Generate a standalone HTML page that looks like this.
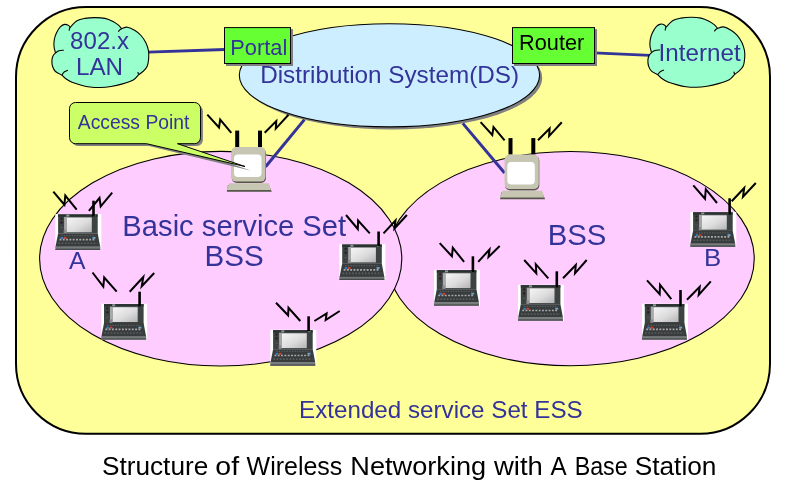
<!DOCTYPE html>
<html><head><meta charset="utf-8"><style>
html,body{margin:0;padding:0;background:#fff;}
svg{display:block;}
text{font-family:"Liberation Sans",sans-serif;}
.bolt{fill:none;stroke:#000;stroke-width:2;stroke-linejoin:miter;}
</style></head><body>
<svg width="801" height="480" viewBox="0 0 801 480" style="will-change:transform">
<defs>
<linearGradient id="scr" x1="0" y1="0" x2="1" y2="1">
<stop offset="0" stop-color="#f6f6f6"/><stop offset="0.55" stop-color="#dcdcdc"/><stop offset="1" stop-color="#b4b4b4"/>
</linearGradient>


</defs>
<rect x="16" y="7" width="754" height="426.8" rx="70" fill="#ffff99" stroke="#000" stroke-width="2"/>
<path d="M148 52.1 L225 49.5" stroke="#333399" stroke-width="2.8" fill="none"/>
<path d="M594 52.8 L650 55.4" stroke="#333399" stroke-width="2.8" fill="none"/>
<path d="M55.5 52.9 C55.25 51.83 54.21 48.65 54 46.5 C53.79 44.35 53.87 42.2 54.25 40 C54.63 37.8 55.26 35.52 56.3 33.3 C57.34 31.08 59.1 28.18 60.5 26.7 C61.9 25.22 63.32 24.58 64.7 24.4 C66.08 24.22 67.92 25.08 68.8 25.6 C69.68 26.12 69.8 27.18 70 27.5 C71.17 26.38 74.5 22.32 77 20.8 C79.5 19.28 82 18.93 85 18.4 C88 17.87 91.67 17.6 95 17.6 C98.33 17.6 102 17.75 105 18.4 C108 19.05 110.75 20.37 113 21.5 C115.25 22.63 117.05 23.99 118.5 25.2 C119.95 26.41 121.17 28.16 121.7 28.75 C122.67 28.49 125.28 26.91 127.5 27.2 C129.72 27.49 132.75 29.12 135 30.5 C137.25 31.88 139.17 33.42 141 35.5 C142.83 37.58 144.75 40.42 146 43 C147.25 45.58 148.05 48.45 148.5 51 C148.95 53.55 148.9 55.8 148.7 58.3 C148.5 60.8 148.17 63.88 147.3 66 C146.43 68.12 144.93 69.57 143.5 71 C142.07 72.43 139.54 74 138.75 74.6 C137.84 75.5 136.01 78.45 133.3 80 C130.59 81.55 126.22 82.82 122.5 83.9 C118.78 84.98 114.75 85.9 111 86.5 C107.25 87.1 103.5 87.42 100 87.5 C96.5 87.58 93.12 87.38 90 87 C86.88 86.62 84.3 85.98 81.3 85.2 C78.3 84.42 74.63 83.42 72 82.3 C69.37 81.18 67.21 79.72 65.5 78.5 C63.79 77.28 62.38 75.58 61.75 75 C60.71 74.42 57.02 72.92 55.5 71.5 C53.98 70.08 53.2 68.33 52.6 66.5 C52 64.67 51.83 62.25 51.9 60.5 C51.97 58.75 52.4 57.27 53 56 C53.6 54.73 55.08 53.42 55.5 52.9 Z" fill="#99ffcc" stroke="#000" stroke-width="1.1"/>
<path d="M55.5 52.9 C56.08 52.55 57.62 51.25 59 50.8 C60.38 50.35 63 50.3 63.8 50.2 M70 27.5 C69.9 27.78 69.53 28.65 69.4 29.2 C69.27 29.75 69.23 30.53 69.2 30.8 M121.7 28.75 C121.38 28.93 120.37 29.31 119.8 29.8 C119.23 30.29 118.55 31.38 118.3 31.7 M138.75 74.6 C138.66 74.38 138.34 73.73 138.2 73.3 C138.06 72.87 137.95 72.22 137.9 72 M61.75 75 C62.21 74.47 63.46 72.6 64.5 71.8 C65.54 71 67.42 70.47 68 70.2" fill="none" stroke="#000" stroke-width="1.1"/>
<path d="M651.5 52.6 C651.25 51.53 650.21 48.35 650 46.2 C649.79 44.05 649.87 41.9 650.25 39.7 C650.63 37.5 651.26 35.22 652.3 33 C653.34 30.78 655.1 27.88 656.5 26.4 C657.9 24.92 659.32 24.28 660.7 24.1 C662.08 23.92 663.92 24.78 664.8 25.3 C665.68 25.82 665.8 26.88 666 27.2 C667.17 26.08 670.5 22.02 673 20.5 C675.5 18.98 678 18.63 681 18.1 C684 17.57 687.67 17.3 691 17.3 C694.33 17.3 698 17.45 701 18.1 C704 18.75 706.75 20.07 709 21.2 C711.25 22.33 713.05 23.69 714.5 24.9 C715.95 26.11 717.17 27.86 717.7 28.45 C718.67 28.19 721.28 26.61 723.5 26.9 C725.72 27.19 728.75 28.82 731 30.2 C733.25 31.58 735.17 33.12 737 35.2 C738.83 37.28 740.75 40.12 742 42.7 C743.25 45.28 744.05 48.15 744.5 50.7 C744.95 53.25 744.9 55.5 744.7 58 C744.5 60.5 744.17 63.58 743.3 65.7 C742.43 67.82 740.92 69.27 739.5 70.7 C738.08 72.13 735.54 73.7 734.75 74.3 C733.84 75.2 732.01 78.15 729.3 79.7 C726.59 81.25 722.22 82.52 718.5 83.6 C714.78 84.68 710.75 85.6 707 86.2 C703.25 86.8 699.5 87.12 696 87.2 C692.5 87.28 689.12 87.08 686 86.7 C682.88 86.32 680.3 85.68 677.3 84.9 C674.3 84.12 670.63 83.12 668 82 C665.37 80.88 663.21 79.42 661.5 78.2 C659.79 76.98 658.38 75.28 657.75 74.7 C656.71 74.12 653.02 72.62 651.5 71.2 C649.98 69.78 649.2 68.03 648.6 66.2 C648 64.37 647.83 61.95 647.9 60.2 C647.97 58.45 648.4 56.97 649 55.7 C649.6 54.43 651.08 53.12 651.5 52.6 Z" fill="#99ffcc" stroke="#000" stroke-width="1.1"/>
<path d="M651.5 52.6 C652.08 52.25 653.62 50.95 655 50.5 C656.38 50.05 659 50 659.8 49.9 M666 27.2 C665.9 27.48 665.53 28.35 665.4 28.9 C665.27 29.45 665.23 30.23 665.2 30.5 M717.7 28.45 C717.38 28.62 716.37 29.01 715.8 29.5 C715.23 29.99 714.55 31.08 714.3 31.4 M734.75 74.3 C734.66 74.08 734.34 73.43 734.2 73 C734.06 72.57 733.95 71.92 733.9 71.7 M657.75 74.7 C658.21 74.17 659.46 72.3 660.5 71.5 C661.54 70.7 663.42 70.17 664 69.9" fill="none" stroke="#000" stroke-width="1.1"/>
<ellipse cx="392.05" cy="77.9" rx="150.15" ry="51.6" fill="#808080"/>
<ellipse cx="389.45" cy="75.3" rx="150.15" ry="51.6" fill="#cceeff" stroke="#000" stroke-width="1.1"/>
<rect x="226" y="29.1" width="67" height="36.9" fill="#808080"/>
<rect x="224.5" y="27.6" width="66" height="35.9" fill="#66ff33" stroke="#000" stroke-width="1"/>
<rect x="514" y="29.1" width="83" height="36.9" fill="#808080"/>
<rect x="512.5" y="27.6" width="82" height="35.9" fill="#66ff33" stroke="#000" stroke-width="1"/>
<ellipse cx="570.5" cy="258.6" rx="183.75" ry="107.1" fill="#ffccff" stroke="#000" stroke-width="1.1"/>
<ellipse cx="220.7" cy="258.7" rx="181.1" ry="107.3" fill="#ffccff" stroke="#000" stroke-width="1.1"/>
<path d="M265.6 166.7 L304.4 119.6" stroke="#333399" stroke-width="3" fill="none"/>
<path d="M462.8 123.4 L504.6 173" stroke="#333399" stroke-width="3" fill="none"/>
<g transform="translate(0 0)">
<rect x="235.2" y="130.6" width="4" height="16.5" fill="#000"/>
<rect x="258" y="130.6" width="4" height="16.5" fill="#000"/>
<path class="bolt" d="M207.3 114.6 L219 127.5 L220.2 119.5 L231.3 132.8"/>
<path class="bolt" d="M264.7 132.8 L276.3 121 L275.8 128.6 L288.5 114.8"/>
<rect x="231.8" y="148.3" width="34.2" height="34.6" rx="5" fill="#55554a"/>
<rect x="231.3" y="147" width="34.2" height="34.6" rx="5" fill="#c6c6b2"/>
<rect x="234" y="154.5" width="27.5" height="22.4" rx="4" fill="#fff"/>
<path d="M228 185 L268.8 185 L271.8 191.7 L226.8 191.7 Z" fill="#55554a"/>
<path d="M229.2 183.3 L268.8 183.3 L270.8 190 L226.5 190 Z" fill="#c6c6b2"/>
</g>
<g transform="translate(273.3 7.5)">
<rect x="235.2" y="130.6" width="4" height="16.5" fill="#000"/>
<rect x="258" y="130.6" width="4" height="16.5" fill="#000"/>
<path class="bolt" d="M207.3 114.6 L219 127.5 L220.2 119.5 L231.3 132.8"/>
<path class="bolt" d="M264.7 132.8 L276.3 121 L275.8 128.6 L288.5 114.8"/>
<rect x="231.8" y="148.3" width="34.2" height="34.6" rx="5" fill="#55554a"/>
<rect x="231.3" y="147" width="34.2" height="34.6" rx="5" fill="#c6c6b2"/>
<rect x="234" y="154.5" width="27.5" height="22.4" rx="4" fill="#fff"/>
<path d="M228 185 L268.8 185 L271.8 191.7 L226.8 191.7 Z" fill="#55554a"/>
<path d="M229.2 183.3 L268.8 183.3 L270.8 190 L226.5 190 Z" fill="#c6c6b2"/>
</g>
<path d="M75.5 102.5 H194.5 A6 6 0 0 1 200.5 108.5 V137.7 A6 6 0 0 1 194.5 143.7 H177.5 L248.8 168.3 L146.5 143.7 H75.5 A6 6 0 0 1 69.5 137.7 V108.5 A6 6 0 0 1 75.5 102.5 Z" fill="#808080" transform="translate(2.4 2.4)"/>
<path d="M75.5 102.5 H194.5 A6 6 0 0 1 200.5 108.5 V137.7 A6 6 0 0 1 194.5 143.7 H177.5 L245 166.5 L146.5 143.7 H75.5 A6 6 0 0 1 69.5 137.7 V108.5 A6 6 0 0 1 75.5 102.5 Z" fill="#ccff66" stroke="#000" stroke-width="1"/>
<g transform="translate(55.3 214)">
<rect x="0" y="0" width="46" height="36" fill="#fff"/>
<rect x="2.8" y="0.4" width="39.6" height="19.2" fill="#3d4242"/>
<rect x="2.8" y="0.4" width="39.6" height="2.4" fill="#2b3131"/>
<rect x="11" y="0.6" width="3" height="2" fill="#8e9a9a"/>
<rect x="37.6" y="0.8" width="2.4" height="1.6" fill="#8e9a9a"/>
<rect x="11.5" y="2.9" width="25" height="0.7" fill="#666"/>
<rect x="8.8" y="2.9" width="2.7" height="15.8" fill="#a9a9a9"/>
<rect x="11.5" y="3.5" width="25" height="14.8" fill="url(#scr)"/>
<rect x="5.2" y="3.8" width="2" height="1.8" fill="#2a1a1a"/>
<rect x="5.2" y="7.6" width="2" height="2" fill="#2a1a1a"/>
<rect x="5" y="13" width="3" height="1" fill="#555"/>
<rect x="8.4" y="15.6" width="2.4" height="3.6" fill="#8a8a8a"/>
<path d="M2.8 19.4 H42.4 L44.9 32.8 L0.2 32.8 Z" fill="#383c3c"/>
<path d="M6 21.6 H40" stroke="#5a6060" stroke-width="1.2" stroke-dasharray="1.2 1.4"/>
<rect x="5.4" y="23" width="2.4" height="2" fill="#2f7fc8"/>
<rect x="8.4" y="23" width="2.8" height="2" fill="#c8402e"/>
<rect x="37.2" y="23" width="3" height="1.8" fill="#6aa6d2"/>
<path d="M4.2 25.7 H40.5" stroke="#a9a9a9" stroke-width="1.7" stroke-dasharray="1.9 1.4"/>
<path d="M3.2 29.3 H42" stroke="#5a5e5e" stroke-width="1.6" stroke-dasharray="1.6 1.6"/>
<path d="M0.2 32.6 H44.9 L45 35.8 H0 Z" fill="#5e6262"/>
<rect x="0.2" y="33.2" width="44.7" height="0.9" fill="#7c8080"/>
<rect x="0" y="35" width="45" height="0.9" fill="#444848"/>
</g>
<rect x="92.2" y="200.7" width="2.6" height="15.9" fill="#000"/>
<path d="M53.3 191.6 L64.4 204.7 L65.3 195.5 L76.7 209.7 M88.9 210.8 L99.5 198 L100.7 206.4 L112.2 192.7" class="bolt"/>
<g transform="translate(101.2 303.7)">
<rect x="0" y="0" width="46" height="36" fill="#fff"/>
<rect x="2.8" y="0.4" width="39.6" height="19.2" fill="#3d4242"/>
<rect x="2.8" y="0.4" width="39.6" height="2.4" fill="#2b3131"/>
<rect x="11" y="0.6" width="3" height="2" fill="#8e9a9a"/>
<rect x="37.6" y="0.8" width="2.4" height="1.6" fill="#8e9a9a"/>
<rect x="11.5" y="2.9" width="25" height="0.7" fill="#666"/>
<rect x="8.8" y="2.9" width="2.7" height="15.8" fill="#a9a9a9"/>
<rect x="11.5" y="3.5" width="25" height="14.8" fill="url(#scr)"/>
<rect x="5.2" y="3.8" width="2" height="1.8" fill="#2a1a1a"/>
<rect x="5.2" y="7.6" width="2" height="2" fill="#2a1a1a"/>
<rect x="5" y="13" width="3" height="1" fill="#555"/>
<rect x="8.4" y="15.6" width="2.4" height="3.6" fill="#8a8a8a"/>
<path d="M2.8 19.4 H42.4 L44.9 32.8 L0.2 32.8 Z" fill="#383c3c"/>
<path d="M6 21.6 H40" stroke="#5a6060" stroke-width="1.2" stroke-dasharray="1.2 1.4"/>
<rect x="5.4" y="23" width="2.4" height="2" fill="#2f7fc8"/>
<rect x="8.4" y="23" width="2.8" height="2" fill="#c8402e"/>
<rect x="37.2" y="23" width="3" height="1.8" fill="#6aa6d2"/>
<path d="M4.2 25.7 H40.5" stroke="#a9a9a9" stroke-width="1.7" stroke-dasharray="1.9 1.4"/>
<path d="M3.2 29.3 H42" stroke="#5a5e5e" stroke-width="1.6" stroke-dasharray="1.6 1.6"/>
<path d="M0.2 32.6 H44.9 L45 35.8 H0 Z" fill="#5e6262"/>
<rect x="0.2" y="33.2" width="44.7" height="0.9" fill="#7c8080"/>
<rect x="0" y="35" width="45" height="0.9" fill="#444848"/>
</g>
<rect x="138.3" y="291.7" width="2.6" height="14.6" fill="#000"/>
<path d="M92.5 272.5 L103.3 286.7 L104.2 277.5 L116.7 291.7 M129.7 291.7 L143.3 277 L141.7 286.3 L154.2 273" class="bolt"/>
<g transform="translate(270.3 329.8)">
<rect x="0" y="0" width="46" height="36" fill="#fff"/>
<rect x="2.8" y="0.4" width="39.6" height="19.2" fill="#3d4242"/>
<rect x="2.8" y="0.4" width="39.6" height="2.4" fill="#2b3131"/>
<rect x="11" y="0.6" width="3" height="2" fill="#8e9a9a"/>
<rect x="37.6" y="0.8" width="2.4" height="1.6" fill="#8e9a9a"/>
<rect x="11.5" y="2.9" width="25" height="0.7" fill="#666"/>
<rect x="8.8" y="2.9" width="2.7" height="15.8" fill="#a9a9a9"/>
<rect x="11.5" y="3.5" width="25" height="14.8" fill="url(#scr)"/>
<rect x="5.2" y="3.8" width="2" height="1.8" fill="#2a1a1a"/>
<rect x="5.2" y="7.6" width="2" height="2" fill="#2a1a1a"/>
<rect x="5" y="13" width="3" height="1" fill="#555"/>
<rect x="8.4" y="15.6" width="2.4" height="3.6" fill="#8a8a8a"/>
<path d="M2.8 19.4 H42.4 L44.9 32.8 L0.2 32.8 Z" fill="#383c3c"/>
<path d="M6 21.6 H40" stroke="#5a6060" stroke-width="1.2" stroke-dasharray="1.2 1.4"/>
<rect x="5.4" y="23" width="2.4" height="2" fill="#2f7fc8"/>
<rect x="8.4" y="23" width="2.8" height="2" fill="#c8402e"/>
<rect x="37.2" y="23" width="3" height="1.8" fill="#6aa6d2"/>
<path d="M4.2 25.7 H40.5" stroke="#a9a9a9" stroke-width="1.7" stroke-dasharray="1.9 1.4"/>
<path d="M3.2 29.3 H42" stroke="#5a5e5e" stroke-width="1.6" stroke-dasharray="1.6 1.6"/>
<path d="M0.2 32.6 H44.9 L45 35.8 H0 Z" fill="#5e6262"/>
<rect x="0.2" y="33.2" width="44.7" height="0.9" fill="#7c8080"/>
<rect x="0" y="35" width="45" height="0.9" fill="#444848"/>
</g>
<rect x="307.3" y="316.3" width="2.6" height="15" fill="#000"/>
<path d="M276 302.8 L288.1 315.3 L288.5 307.8 L300.3 321 M314.4 321 L326.6 313.5 L325.7 320 L339.7 311" class="bolt"/>
<g transform="translate(339.4 244.1)">
<rect x="0" y="0" width="46" height="36" fill="#fff"/>
<rect x="2.8" y="0.4" width="39.6" height="19.2" fill="#3d4242"/>
<rect x="2.8" y="0.4" width="39.6" height="2.4" fill="#2b3131"/>
<rect x="11" y="0.6" width="3" height="2" fill="#8e9a9a"/>
<rect x="37.6" y="0.8" width="2.4" height="1.6" fill="#8e9a9a"/>
<rect x="11.5" y="2.9" width="25" height="0.7" fill="#666"/>
<rect x="8.8" y="2.9" width="2.7" height="15.8" fill="#a9a9a9"/>
<rect x="11.5" y="3.5" width="25" height="14.8" fill="url(#scr)"/>
<rect x="5.2" y="3.8" width="2" height="1.8" fill="#2a1a1a"/>
<rect x="5.2" y="7.6" width="2" height="2" fill="#2a1a1a"/>
<rect x="5" y="13" width="3" height="1" fill="#555"/>
<rect x="8.4" y="15.6" width="2.4" height="3.6" fill="#8a8a8a"/>
<path d="M2.8 19.4 H42.4 L44.9 32.8 L0.2 32.8 Z" fill="#383c3c"/>
<path d="M6 21.6 H40" stroke="#5a6060" stroke-width="1.2" stroke-dasharray="1.2 1.4"/>
<rect x="5.4" y="23" width="2.4" height="2" fill="#2f7fc8"/>
<rect x="8.4" y="23" width="2.8" height="2" fill="#c8402e"/>
<rect x="37.2" y="23" width="3" height="1.8" fill="#6aa6d2"/>
<path d="M4.2 25.7 H40.5" stroke="#a9a9a9" stroke-width="1.7" stroke-dasharray="1.9 1.4"/>
<path d="M3.2 29.3 H42" stroke="#5a5e5e" stroke-width="1.6" stroke-dasharray="1.6 1.6"/>
<path d="M0.2 32.6 H44.9 L45 35.8 H0 Z" fill="#5e6262"/>
<rect x="0.2" y="33.2" width="44.7" height="0.9" fill="#7c8080"/>
<rect x="0" y="35" width="45" height="0.9" fill="#444848"/>
</g>
<rect x="377.3" y="231.5" width="2.6" height="14.5" fill="#000"/>
<path d="M346 215 L357.8 229 L358.1 220.6 L369.8 233.4 M383.5 233.4 L395.5 220.5 L394.5 228.5 L406.9 215" class="bolt"/>
<g transform="translate(434 269.8)">
<rect x="0" y="0" width="46" height="36" fill="#fff"/>
<rect x="2.8" y="0.4" width="39.6" height="19.2" fill="#3d4242"/>
<rect x="2.8" y="0.4" width="39.6" height="2.4" fill="#2b3131"/>
<rect x="11" y="0.6" width="3" height="2" fill="#8e9a9a"/>
<rect x="37.6" y="0.8" width="2.4" height="1.6" fill="#8e9a9a"/>
<rect x="11.5" y="2.9" width="25" height="0.7" fill="#666"/>
<rect x="8.8" y="2.9" width="2.7" height="15.8" fill="#a9a9a9"/>
<rect x="11.5" y="3.5" width="25" height="14.8" fill="url(#scr)"/>
<rect x="5.2" y="3.8" width="2" height="1.8" fill="#2a1a1a"/>
<rect x="5.2" y="7.6" width="2" height="2" fill="#2a1a1a"/>
<rect x="5" y="13" width="3" height="1" fill="#555"/>
<rect x="8.4" y="15.6" width="2.4" height="3.6" fill="#8a8a8a"/>
<path d="M2.8 19.4 H42.4 L44.9 32.8 L0.2 32.8 Z" fill="#383c3c"/>
<path d="M6 21.6 H40" stroke="#5a6060" stroke-width="1.2" stroke-dasharray="1.2 1.4"/>
<rect x="5.4" y="23" width="2.4" height="2" fill="#2f7fc8"/>
<rect x="8.4" y="23" width="2.8" height="2" fill="#c8402e"/>
<rect x="37.2" y="23" width="3" height="1.8" fill="#6aa6d2"/>
<path d="M4.2 25.7 H40.5" stroke="#a9a9a9" stroke-width="1.7" stroke-dasharray="1.9 1.4"/>
<path d="M3.2 29.3 H42" stroke="#5a5e5e" stroke-width="1.6" stroke-dasharray="1.6 1.6"/>
<path d="M0.2 32.6 H44.9 L45 35.8 H0 Z" fill="#5e6262"/>
<rect x="0.2" y="33.2" width="44.7" height="0.9" fill="#7c8080"/>
<rect x="0" y="35" width="45" height="0.9" fill="#444848"/>
</g>
<rect x="471.6" y="256.3" width="2.6" height="15.9" fill="#000"/>
<path d="M439.7 243.1 L451.9 256.3 L452.8 247.8 L464.1 261.9 M478.2 261.9 L489.5 249.5 L488.5 257 L499.7 246" class="bolt"/>
<g transform="translate(518 284.8)">
<rect x="0" y="0" width="46" height="36" fill="#fff"/>
<rect x="2.8" y="0.4" width="39.6" height="19.2" fill="#3d4242"/>
<rect x="2.8" y="0.4" width="39.6" height="2.4" fill="#2b3131"/>
<rect x="11" y="0.6" width="3" height="2" fill="#8e9a9a"/>
<rect x="37.6" y="0.8" width="2.4" height="1.6" fill="#8e9a9a"/>
<rect x="11.5" y="2.9" width="25" height="0.7" fill="#666"/>
<rect x="8.8" y="2.9" width="2.7" height="15.8" fill="#a9a9a9"/>
<rect x="11.5" y="3.5" width="25" height="14.8" fill="url(#scr)"/>
<rect x="5.2" y="3.8" width="2" height="1.8" fill="#2a1a1a"/>
<rect x="5.2" y="7.6" width="2" height="2" fill="#2a1a1a"/>
<rect x="5" y="13" width="3" height="1" fill="#555"/>
<rect x="8.4" y="15.6" width="2.4" height="3.6" fill="#8a8a8a"/>
<path d="M2.8 19.4 H42.4 L44.9 32.8 L0.2 32.8 Z" fill="#383c3c"/>
<path d="M6 21.6 H40" stroke="#5a6060" stroke-width="1.2" stroke-dasharray="1.2 1.4"/>
<rect x="5.4" y="23" width="2.4" height="2" fill="#2f7fc8"/>
<rect x="8.4" y="23" width="2.8" height="2" fill="#c8402e"/>
<rect x="37.2" y="23" width="3" height="1.8" fill="#6aa6d2"/>
<path d="M4.2 25.7 H40.5" stroke="#a9a9a9" stroke-width="1.7" stroke-dasharray="1.9 1.4"/>
<path d="M3.2 29.3 H42" stroke="#5a5e5e" stroke-width="1.6" stroke-dasharray="1.6 1.6"/>
<path d="M0.2 32.6 H44.9 L45 35.8 H0 Z" fill="#5e6262"/>
<rect x="0.2" y="33.2" width="44.7" height="0.9" fill="#7c8080"/>
<rect x="0" y="35" width="45" height="0.9" fill="#444848"/>
</g>
<rect x="555.5" y="271.3" width="2.6" height="16.2" fill="#000"/>
<path d="M524.2 260 L536.3 273.3 L535.8 264.2 L548.3 278.3 M563 278.3 L575.8 265 L575 273.3 L586.7 260" class="bolt"/>
<g transform="translate(642 303.7)">
<rect x="0" y="0" width="46" height="36" fill="#fff"/>
<rect x="2.8" y="0.4" width="39.6" height="19.2" fill="#3d4242"/>
<rect x="2.8" y="0.4" width="39.6" height="2.4" fill="#2b3131"/>
<rect x="11" y="0.6" width="3" height="2" fill="#8e9a9a"/>
<rect x="37.6" y="0.8" width="2.4" height="1.6" fill="#8e9a9a"/>
<rect x="11.5" y="2.9" width="25" height="0.7" fill="#666"/>
<rect x="8.8" y="2.9" width="2.7" height="15.8" fill="#a9a9a9"/>
<rect x="11.5" y="3.5" width="25" height="14.8" fill="url(#scr)"/>
<rect x="5.2" y="3.8" width="2" height="1.8" fill="#2a1a1a"/>
<rect x="5.2" y="7.6" width="2" height="2" fill="#2a1a1a"/>
<rect x="5" y="13" width="3" height="1" fill="#555"/>
<rect x="8.4" y="15.6" width="2.4" height="3.6" fill="#8a8a8a"/>
<path d="M2.8 19.4 H42.4 L44.9 32.8 L0.2 32.8 Z" fill="#383c3c"/>
<path d="M6 21.6 H40" stroke="#5a6060" stroke-width="1.2" stroke-dasharray="1.2 1.4"/>
<rect x="5.4" y="23" width="2.4" height="2" fill="#2f7fc8"/>
<rect x="8.4" y="23" width="2.8" height="2" fill="#c8402e"/>
<rect x="37.2" y="23" width="3" height="1.8" fill="#6aa6d2"/>
<path d="M4.2 25.7 H40.5" stroke="#a9a9a9" stroke-width="1.7" stroke-dasharray="1.9 1.4"/>
<path d="M3.2 29.3 H42" stroke="#5a5e5e" stroke-width="1.6" stroke-dasharray="1.6 1.6"/>
<path d="M0.2 32.6 H44.9 L45 35.8 H0 Z" fill="#5e6262"/>
<rect x="0.2" y="33.2" width="44.7" height="0.9" fill="#7c8080"/>
<rect x="0" y="35" width="45" height="0.9" fill="#444848"/>
</g>
<rect x="679.2" y="290" width="2.6" height="16.3" fill="#000"/>
<path d="M647 280.3 L659.7 294.2 L660 284.7 L671.3 299.2 M687 299.7 L699.7 286.7 L698.7 295 L710.8 281.3" class="bolt"/>
<g transform="translate(690.3 211.9) scale(1 0.97)">
<rect x="0" y="0" width="46" height="36" fill="#fff"/>
<rect x="2.8" y="0.4" width="39.6" height="19.2" fill="#3d4242"/>
<rect x="2.8" y="0.4" width="39.6" height="2.4" fill="#2b3131"/>
<rect x="11" y="0.6" width="3" height="2" fill="#8e9a9a"/>
<rect x="37.6" y="0.8" width="2.4" height="1.6" fill="#8e9a9a"/>
<rect x="11.5" y="2.9" width="25" height="0.7" fill="#666"/>
<rect x="8.8" y="2.9" width="2.7" height="15.8" fill="#a9a9a9"/>
<rect x="11.5" y="3.5" width="25" height="14.8" fill="url(#scr)"/>
<rect x="5.2" y="3.8" width="2" height="1.8" fill="#2a1a1a"/>
<rect x="5.2" y="7.6" width="2" height="2" fill="#2a1a1a"/>
<rect x="5" y="13" width="3" height="1" fill="#555"/>
<rect x="8.4" y="15.6" width="2.4" height="3.6" fill="#8a8a8a"/>
<path d="M2.8 19.4 H42.4 L44.9 32.8 L0.2 32.8 Z" fill="#383c3c"/>
<path d="M6 21.6 H40" stroke="#5a6060" stroke-width="1.2" stroke-dasharray="1.2 1.4"/>
<rect x="5.4" y="23" width="2.4" height="2" fill="#2f7fc8"/>
<rect x="8.4" y="23" width="2.8" height="2" fill="#c8402e"/>
<rect x="37.2" y="23" width="3" height="1.8" fill="#6aa6d2"/>
<path d="M4.2 25.7 H40.5" stroke="#a9a9a9" stroke-width="1.7" stroke-dasharray="1.9 1.4"/>
<path d="M3.2 29.3 H42" stroke="#5a5e5e" stroke-width="1.6" stroke-dasharray="1.6 1.6"/>
<path d="M0.2 32.6 H44.9 L45 35.8 H0 Z" fill="#5e6262"/>
<rect x="0.2" y="33.2" width="44.7" height="0.9" fill="#7c8080"/>
<rect x="0" y="35" width="45" height="0.9" fill="#444848"/>
</g>
<rect x="728.3" y="198.3" width="2.6" height="16.4" fill="#000"/>
<path d="M693.3 185.3 L705 198.7 L705.8 189.2 L717 203 M731.7 201.3 L744.2 188 L743 196.7 L755.8 183" class="bolt"/>
<text x="70.14" y="48.6" font-size="24" fill="#333399" textLength="58.86" lengthAdjust="spacingAndGlyphs">802.x</text>
<text x="75.96" y="74.8" font-size="24" fill="#333399" textLength="47.1" lengthAdjust="spacingAndGlyphs">LAN</text>
<text x="230.25" y="55" font-size="22" fill="#333399" textLength="57.01" lengthAdjust="spacingAndGlyphs">Portal</text>
<text x="260.16" y="82.8" font-size="24" fill="#333399" textLength="258.87" lengthAdjust="spacingAndGlyphs">Distribution System(DS)</text>
<text x="519.06" y="49.85" font-size="21.7" fill="#000" textLength="65.21" lengthAdjust="spacingAndGlyphs">Router</text>
<text x="658.62" y="60.6" font-size="24" fill="#333399" textLength="82.05" lengthAdjust="spacingAndGlyphs">Internet</text>
<text x="77.8" y="128.8" font-size="19.4" fill="#333399" textLength="111.6" lengthAdjust="spacingAndGlyphs">Access Point</text>
<text x="122.37" y="235.5" font-size="29.3" fill="#333399" textLength="223.81" lengthAdjust="spacingAndGlyphs">Basic service Set</text>
<text x="204.64" y="265.5" font-size="29.3" fill="#333399" textLength="59.07" lengthAdjust="spacingAndGlyphs">BSS</text>
<text x="547.66" y="244.8" font-size="29.3" fill="#333399" textLength="58.65" lengthAdjust="spacingAndGlyphs">BSS</text>
<text x="68.9" y="268.6" font-size="24" fill="#333399" textLength="16.52" lengthAdjust="spacingAndGlyphs">A</text>
<text x="703.93" y="265.6" font-size="24" fill="#333399" textLength="17.24" lengthAdjust="spacingAndGlyphs">B</text>
<text x="299.07" y="417.7" font-size="24" fill="#333399" textLength="283.61" lengthAdjust="spacingAndGlyphs">Extended service Set ESS</text>
<g>
<text x="101.99" y="474.8" font-size="25" fill="#000" textLength="106.25" lengthAdjust="spacingAndGlyphs">Structure</text>
<text x="215.36" y="474.8" font-size="25" fill="#000" textLength="23.75" lengthAdjust="spacingAndGlyphs">of</text>
<text x="246.55" y="474.8" font-size="25" fill="#000" textLength="95.79" lengthAdjust="spacingAndGlyphs">Wireless</text>
<text x="350.33" y="474.8" font-size="25" fill="#000" textLength="135.86" lengthAdjust="spacingAndGlyphs">Networking</text>
<text x="494" y="474.8" font-size="25" fill="#000" textLength="48.88" lengthAdjust="spacingAndGlyphs">with</text>
<text x="550.5" y="474.8" font-size="25" fill="#000" textLength="16.17" lengthAdjust="spacingAndGlyphs">A</text>
<text x="574.64" y="474.8" font-size="25" fill="#000" textLength="53.01" lengthAdjust="spacingAndGlyphs">Base</text>
<text x="634.69" y="474.8" font-size="25" fill="#000" textLength="81.78" lengthAdjust="spacingAndGlyphs">Station</text>
</g>
</svg>
</body></html>
